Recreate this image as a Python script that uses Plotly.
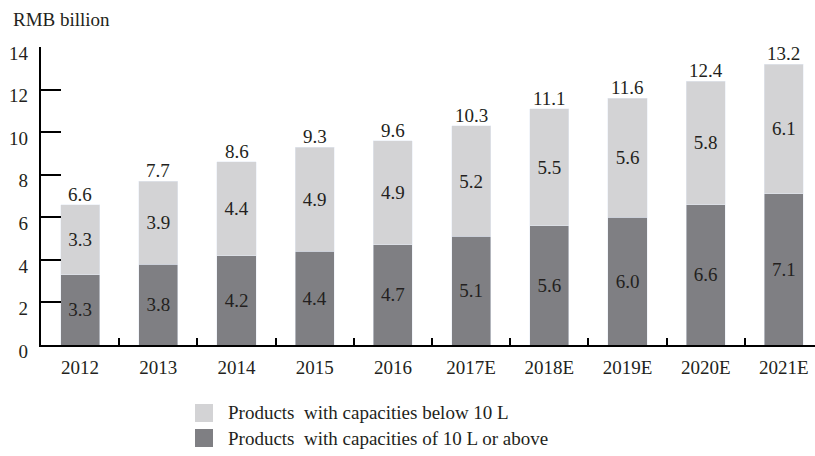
import plotly.graph_objects as go

years = ["2012", "2013", "2014", "2015", "2016", "2017E", "2018E", "2019E", "2020E", "2021E"]
above10 = [3.3, 3.8, 4.2, 4.4, 4.7, 5.1, 5.6, 6.0, 6.6, 7.1]
below10 = [3.3, 3.9, 4.4, 4.9, 4.9, 5.2, 5.5, 5.6, 5.8, 6.1]
totals = [6.6, 7.7, 8.6, 9.3, 9.6, 10.3, 11.1, 11.6, 12.4, 13.2]
name_below = "Products  with capacities below 10 L"
name_above = "Products  with capacities of 10 L or above"

W, H = 815, 456
ML, MR, MT, MB = 41, 0, 47, 111
FONT = "Liberation Serif, Times New Roman, serif"
FS = 19
TXT = "#231f20"
LIGHT = "#d3d3d5"
DARK = "#7f7f83"

fig = go.Figure()
fig.add_trace(go.Bar(
    x=years, y=above10, name=name_above, marker_color=DARK, width=0.5,
    text=[f"{v:.1f}" for v in above10], textposition="inside",
    insidetextanchor="middle", textfont=dict(size=FS, color=TXT, family=FONT),
    showlegend=False, constraintext="none",
))
fig.add_trace(go.Bar(
    x=years, y=below10, name=name_below, marker_color=LIGHT, width=0.5,
    text=[f"{v:.1f}" for v in below10], textposition="inside",
    insidetextanchor="middle", textfont=dict(size=FS, color=TXT, family=FONT),
    showlegend=False, constraintext="none",
))

for i, t in enumerate(totals):
    fig.add_annotation(x=i, y=t, text=f"{t:.1f}", showarrow=False,
                       yanchor="bottom", yshift=-2,
                       font=dict(size=FS, color=TXT, family=FONT))

pw = W - ML - MR
ph = H - MT - MB

def px(xp):
    return (xp - ML) / pw

def py(yp):
    return (H - MB - yp) / ph

fig.add_annotation(xref="paper", yref="paper", x=px(11), y=py(20), text="RMB billion",
                   showarrow=False, xanchor="left", yanchor="middle",
                   font=dict(size=FS, color=TXT, family=FONT))

legend_items = [(name_below, LIGHT, 413), (name_above, DARK, 438)]
for name, col, yc in legend_items:
    fig.add_shape(type="rect", xref="paper", yref="paper",
                  x0=px(195), x1=px(213), y0=py(yc - 9), y1=py(yc + 9),
                  fillcolor=col, line_width=0)
    fig.add_annotation(xref="paper", yref="paper", x=px(226), y=py(yc), text=name,
                       showarrow=False, xanchor="left", yanchor="middle",
                       font=dict(size=FS, color=TXT, family=FONT))

xr = [-0.5, (W - ML - MR) / 78.2 - 0.5]
yr = [0, 14]
boundaries = [i + 0.5 for i in range(len(years) - 1)]
fig.update_layout(
    width=W, height=H, barmode="stack",
    margin=dict(l=ML, r=MR, t=MT, b=MB, pad=0),
    paper_bgcolor="white", plot_bgcolor="white",
    font=dict(family=FONT, size=FS, color=TXT),
    xaxis=dict(type="category", range=xr, showgrid=False,
               showline=True, linecolor="black", linewidth=2,
               ticks="", showticklabels=False),
    yaxis=dict(range=yr, dtick=2, showgrid=False, zeroline=False,
               showline=True, linecolor="black", linewidth=2,
               ticks="inside", ticklen=20, tickwidth=2, tickcolor="black",
               showticklabels=False),
    xaxis2=dict(overlaying="x", anchor="y", side="bottom", range=xr,
                tickvals=list(range(len(years))), ticktext=years,
                showgrid=False, zeroline=False, showline=False, ticks="",
                ticklabelstandoff=9,
                tickfont=dict(size=FS, color=TXT, family=FONT)),
    xaxis3=dict(overlaying="x", anchor="y", side="bottom", range=xr,
                tickvals=boundaries, showticklabels=False,
                showgrid=False, zeroline=False, showline=False,
                ticks="inside", ticklen=7, tickwidth=2, tickcolor="black"),
    yaxis2=dict(overlaying="y", anchor="x", side="left", range=yr, dtick=2,
                showgrid=False, zeroline=False, showline=False, ticks="",
                ticklabelstandoff=12, ticklabelshift=6,
                tickfont=dict(size=FS, color=TXT, family=FONT)),
)
fig.add_trace(go.Scatter(x=[0], y=[0], xaxis="x2", yaxis="y2", mode="markers",
                         marker=dict(opacity=0), showlegend=False, hoverinfo="skip"))
fig.add_trace(go.Scatter(x=[0], y=[0], xaxis="x3", yaxis="y", mode="markers",
                         marker=dict(opacity=0), showlegend=False, hoverinfo="skip"))

fig.write_html("out.html")
